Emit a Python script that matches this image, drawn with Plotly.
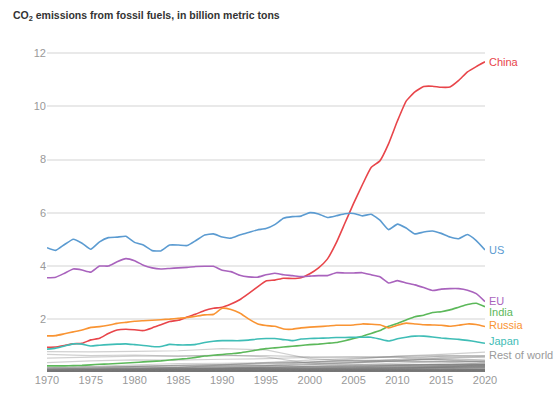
import plotly.graph_objects as go

years = list(range(1970, 2021))

china = [0.93, 0.94, 1.00, 1.06, 1.08, 1.21, 1.27, 1.45, 1.58, 1.61,
         1.59, 1.56, 1.66, 1.78, 1.90, 1.95, 2.07, 2.18, 2.32, 2.40,
         2.44, 2.56, 2.72, 2.95, 3.20, 3.43, 3.46, 3.53, 3.52, 3.55,
         3.70, 3.92, 4.25, 4.85, 5.60, 6.35, 7.05, 7.70, 7.95, 8.60,
         9.45, 10.20, 10.55, 10.75, 10.76, 10.72, 10.73, 10.98, 11.30, 11.50,
         11.68]
us = [4.68, 4.58, 4.80, 5.00, 4.85, 4.62, 4.90, 5.06, 5.08, 5.11,
      4.88, 4.78, 4.57, 4.56, 4.78, 4.78, 4.76, 4.95, 5.16, 5.20,
      5.08, 5.04, 5.16, 5.25, 5.35, 5.40, 5.55, 5.79, 5.85, 5.87,
      6.00, 5.95, 5.82, 5.88, 5.96, 5.97, 5.88, 5.94, 5.72, 5.36,
      5.57, 5.42, 5.20, 5.27, 5.31, 5.22, 5.08, 5.02, 5.18, 4.95,
      4.60]
eu = [3.55, 3.57, 3.72, 3.88, 3.84, 3.76, 3.99, 3.99, 4.15, 4.27,
      4.19, 4.02, 3.92, 3.88, 3.90, 3.92, 3.94, 3.97, 3.98, 3.98,
      3.83, 3.78, 3.64, 3.58, 3.57, 3.66, 3.72, 3.66, 3.63, 3.59,
      3.61, 3.63, 3.63, 3.74, 3.73, 3.73, 3.74, 3.66, 3.59, 3.35,
      3.44, 3.35, 3.28, 3.18, 3.07, 3.12, 3.14, 3.14, 3.08, 2.95,
      2.65]
india = [0.23, 0.23, 0.23, 0.24, 0.25, 0.27, 0.29, 0.30, 0.32, 0.34,
         0.36, 0.38, 0.40, 0.42, 0.45, 0.48, 0.51, 0.55, 0.60, 0.63,
         0.66, 0.69, 0.72, 0.77, 0.83, 0.88, 0.91, 0.94, 0.97, 1.00,
         1.03, 1.05, 1.08, 1.11, 1.18, 1.26, 1.35, 1.45, 1.56, 1.72,
         1.83, 1.96, 2.08, 2.14, 2.24, 2.27, 2.34, 2.44, 2.54, 2.59,
         2.46]
russia = [1.36, 1.37, 1.44, 1.51, 1.58, 1.68, 1.71, 1.76, 1.83, 1.87,
          1.91, 1.93, 1.95, 1.97, 1.99, 2.02, 2.05, 2.10, 2.15, 2.17,
          2.40, 2.35, 2.22, 2.00, 1.82, 1.75, 1.72, 1.62, 1.61, 1.66,
          1.69, 1.71, 1.73, 1.76, 1.76, 1.77, 1.81, 1.80, 1.78, 1.66,
          1.76, 1.84, 1.81, 1.78, 1.77, 1.76, 1.72, 1.76, 1.81, 1.79,
          1.71]
japan = [0.86, 0.90, 0.98, 1.06, 1.05, 0.98, 1.01, 1.03, 1.05, 1.06,
         1.03, 1.00, 0.96, 0.96, 1.04, 1.02, 1.02, 1.04, 1.11, 1.16,
         1.18, 1.18, 1.18, 1.20, 1.24, 1.26, 1.26, 1.22, 1.18, 1.24,
         1.26, 1.27, 1.28, 1.30, 1.30, 1.31, 1.31, 1.31, 1.24, 1.17,
         1.25, 1.31, 1.35, 1.35, 1.32, 1.28, 1.25, 1.23, 1.19, 1.14,
         1.08]

# Rest of world: individual countries, values every 5 years (1970..2020)
row_years = list(range(1970, 2021, 5))
rest_of_world = [
    [0.77, 0.76, 0.78, 0.80, 0.88, 0.83, 0.50, 0.42, 0.40, 0.38, 0.30],
    [0.66, 0.62, 0.64, 0.60, 0.62, 0.62, 0.57, 0.57, 0.56, 0.46, 0.35],
    [0.52, 0.55, 0.60, 0.60, 0.64, 0.57, 0.32, 0.26, 0.28, 0.30, 0.28],
    [0.35, 0.42, 0.46, 0.45, 0.48, 0.50, 0.55, 0.57, 0.56, 0.58, 0.54],
    [0.05, 0.10, 0.12, 0.18, 0.24, 0.25, 0.37, 0.47, 0.60, 0.66, 0.75],
    [0.05, 0.08, 0.13, 0.17, 0.26, 0.36, 0.45, 0.51, 0.59, 0.63, 0.60],
    [0.05, 0.08, 0.18, 0.19, 0.20, 0.22, 0.28, 0.36, 0.48, 0.60, 0.62],
    [0.03, 0.05, 0.09, 0.11, 0.15, 0.21, 0.27, 0.34, 0.42, 0.52, 0.59],
    [0.10, 0.15, 0.22, 0.26, 0.28, 0.32, 0.38, 0.43, 0.45, 0.47, 0.38],
    [0.10, 0.15, 0.19, 0.17, 0.20, 0.24, 0.31, 0.34, 0.42, 0.52, 0.45],
    [0.16, 0.22, 0.27, 0.32, 0.33, 0.35, 0.37, 0.43, 0.46, 0.47, 0.44],
    [0.15, 0.18, 0.22, 0.23, 0.28, 0.31, 0.35, 0.38, 0.40, 0.39, 0.39],
    [0.04, 0.06, 0.07, 0.09, 0.13, 0.16, 0.22, 0.26, 0.32, 0.39, 0.40],
    [0.17, 0.20, 0.23, 0.24, 0.26, 0.25, 0.17, 0.18, 0.25, 0.28, 0.26],
    [0.03, 0.05, 0.08, 0.11, 0.12, 0.15, 0.21, 0.26, 0.28, 0.28, 0.28],
    [0.02, 0.02, 0.04, 0.05, 0.08, 0.13, 0.18, 0.21, 0.25, 0.28, 0.26],
    [0.02, 0.02, 0.05, 0.07, 0.08, 0.10, 0.12, 0.15, 0.20, 0.23, 0.23],
    [0.08, 0.09, 0.10, 0.09, 0.10, 0.11, 0.13, 0.13, 0.15, 0.19, 0.17],
    [0.05, 0.07, 0.08, 0.09, 0.11, 0.12, 0.14, 0.15, 0.16, 0.15, 0.08],
    [0.02, 0.03, 0.03, 0.04, 0.06, 0.08, 0.10, 0.11, 0.15, 0.18, 0.21],
    [0.01, 0.02, 0.03, 0.04, 0.05, 0.07, 0.10, 0.15, 0.17, 0.22, 0.24],
    [0.01, 0.02, 0.03, 0.04, 0.06, 0.08, 0.10, 0.10, 0.14, 0.16, 0.19],
    [0.02, 0.02, 0.01, 0.01, 0.01, 0.02, 0.04, 0.06, 0.10, 0.17, 0.29],
    [0.06, 0.08, 0.10, 0.11, 0.12, 0.12, 0.10, 0.12, 0.11, 0.10, 0.10],
    [0.01, 0.03, 0.05, 0.06, 0.06, 0.08, 0.08, 0.09, 0.11, 0.15, 0.16],
    [0.02, 0.03, 0.07, 0.07, 0.06, 0.08, 0.09, 0.10, 0.11, 0.12, 0.13],
    [0.02, 0.03, 0.04, 0.03, 0.04, 0.05, 0.06, 0.07, 0.08, 0.12, 0.14],
    [0.02, 0.03, 0.05, 0.05, 0.05, 0.06, 0.07, 0.09, 0.13, 0.18, 0.17],
    [0.02, 0.03, 0.02, 0.02, 0.03, 0.04, 0.05, 0.07, 0.09, 0.10, 0.09],
    [0.00, 0.01, 0.01, 0.02, 0.02, 0.03, 0.04, 0.05, 0.07, 0.10, 0.10],
    [0.02, 0.02, 0.03, 0.02, 0.03, 0.04, 0.06, 0.06, 0.08, 0.09, 0.09],
    [0.02, 0.03, 0.04, 0.04, 0.05, 0.05, 0.06, 0.06, 0.07, 0.09, 0.08],
    [0.01, 0.02, 0.02, 0.02, 0.02, 0.02, 0.03, 0.03, 0.04, 0.05, 0.05],
    [0.07, 0.09, 0.10, 0.10, 0.11, 0.10, 0.06, 0.06, 0.06, 0.06, 0.06],
    [0.02, 0.03, 0.04, 0.04, 0.05, 0.05, 0.04, 0.05, 0.06, 0.07, 0.07],
    [0.01, 0.02, 0.02, 0.02, 0.03, 0.03, 0.05, 0.06, 0.07, 0.07, 0.06],
    [0.01, 0.01, 0.02, 0.02, 0.02, 0.02, 0.03, 0.04, 0.05, 0.06, 0.07],
    [0.00, 0.00, 0.01, 0.01, 0.01, 0.02, 0.02, 0.04, 0.06, 0.08, 0.10],
    [0.04, 0.04, 0.04, 0.04, 0.04, 0.04, 0.04, 0.04, 0.04, 0.04, 0.03],
    [0.03, 0.03, 0.03, 0.03, 0.03, 0.03, 0.04, 0.04, 0.05, 0.04, 0.04],
    [0.02, 0.03, 0.04, 0.04, 0.05, 0.05, 0.04, 0.04, 0.05, 0.05, 0.05],
    [0.01, 0.01, 0.02, 0.03, 0.03, 0.03, 0.04, 0.04, 0.05, 0.03, 0.03],
    [0.01, 0.02, 0.02, 0.03, 0.03, 0.04, 0.04, 0.05, 0.06, 0.05, 0.05],
    [0.06, 0.09, 0.11, 0.13, 0.15, 0.16, 0.10, 0.07, 0.07, 0.04, 0.03],
    [0.02, 0.03, 0.03, 0.03, 0.04, 0.04, 0.02, 0.03, 0.03, 0.03, 0.02],
    [0.01, 0.02, 0.02, 0.02, 0.03, 0.04, 0.04, 0.05, 0.05, 0.05, 0.05],
    [0.03, 0.04, 0.05, 0.05, 0.06, 0.06, 0.03, 0.03, 0.03, 0.03, 0.04],
    [0.00, 0.00, 0.00, 0.01, 0.01, 0.01, 0.02, 0.03, 0.05, 0.07, 0.07],
    [0.01, 0.02, 0.02, 0.02, 0.02, 0.03, 0.03, 0.03, 0.03, 0.03, 0.03],
    [0.00, 0.01, 0.01, 0.01, 0.01, 0.02, 0.02, 0.02, 0.03, 0.04, 0.03],
    [0.00, 0.00, 0.00, 0.00, 0.01, 0.01, 0.01, 0.01, 0.02, 0.02, 0.02],
    [0.01, 0.01, 0.01, 0.01, 0.01, 0.01, 0.01, 0.01, 0.01, 0.01, 0.01],
    [0.00, 0.00, 0.00, 0.00, 0.00, 0.00, 0.00, 0.00, 0.01, 0.01, 0.01],
    [0.12, 0.13, 0.15, 0.16, 0.18, 0.19, 0.20, 0.22, 0.25, 0.30, 0.33],
    [0.09, 0.10, 0.12, 0.14, 0.15, 0.17, 0.19, 0.21, 0.24, 0.26, 0.30],
    [0.07, 0.08, 0.09, 0.11, 0.12, 0.13, 0.15, 0.18, 0.20, 0.23, 0.26],
    [0.11, 0.12, 0.13, 0.13, 0.14, 0.14, 0.13, 0.14, 0.16, 0.18, 0.20],
    [0.13, 0.14, 0.15, 0.16, 0.17, 0.17, 0.16, 0.17, 0.19, 0.21, 0.22],
    [0.04, 0.05, 0.06, 0.07, 0.08, 0.09, 0.11, 0.13, 0.15, 0.17, 0.19],
]

main_series = [
    ("China", china, "#e8454a"),
    ("US", us, "#5b9bd1"),
    ("EU", eu, "#a963bd"),
    ("India", india, "#5cb85a"),
    ("Russia", russia, "#f99433"),
    ("Japan", japan, "#3fbdb6"),
]
label_shift = {"China": 0, "US": 0, "EU": 1, "India": -5, "Russia": 2, "Japan": 2}

FONT = "Liberation Sans, Arial, Helvetica, sans-serif"
fig = go.Figure()

for row in rest_of_world:
    fig.add_trace(go.Scatter(x=row_years, y=row, mode="lines",
                             line=dict(color="rgba(120,120,120,0.35)", width=1.2),
                             hoverinfo="skip", showlegend=False))

for name, vals, col in main_series:
    fig.add_trace(go.Scatter(x=years, y=vals, mode="lines", name=name,
                             line=dict(color=col, width=1.6, shape="spline", smoothing=0.4),
                             showlegend=False))
    fig.add_annotation(x=years[-1], y=vals[-1], xref="x", yref="y", text=name,
                       showarrow=False, xanchor="left", yanchor="middle",
                       xshift=2, yshift=label_shift[name],
                       font=dict(family=FONT, size=11, color=col))

fig.add_annotation(x=years[-1], y=0.64, xref="x", yref="y", text="Rest of world",
                   showarrow=False, xanchor="left", yanchor="middle", xshift=2,
                   font=dict(family=FONT, size=11, color="#9a9a9a"))

fig.update_layout(
    width=560, height=393,
    margin=dict(l=47, r=75, t=48, b=21),
    paper_bgcolor="white", plot_bgcolor="white",
    font=dict(family=FONT, size=11, color="#999999"),
    title=dict(text="<b>CO<sub>2</sub> emissions from fossil fuels, in billion metric tons</b>",
               xref="container", yref="container", x=13/560, xanchor="left",
               y=1 - 15/393, yanchor="middle",
               font=dict(family=FONT, size=10.5, color="#333333")),
    xaxis=dict(range=[1970, 2020], tickvals=list(range(1970, 2021, 5)),
               showgrid=False, zeroline=False, showline=False, ticks="",
               automargin=False, tickfont=dict(size=11, color="#999999")),
    yaxis=dict(range=[0, 12.2], tickvals=[2, 4, 6, 8, 10, 12],
               showgrid=True, gridcolor="#e9e9e9", gridwidth=1.5,
               zeroline=False, showline=False, ticks="",
               automargin=False, tickfont=dict(size=11, color="#999999")),
)

fig.write_html("out.html", config={"displayModeBar": False},
               post_script="document.body.style.margin='0';")
